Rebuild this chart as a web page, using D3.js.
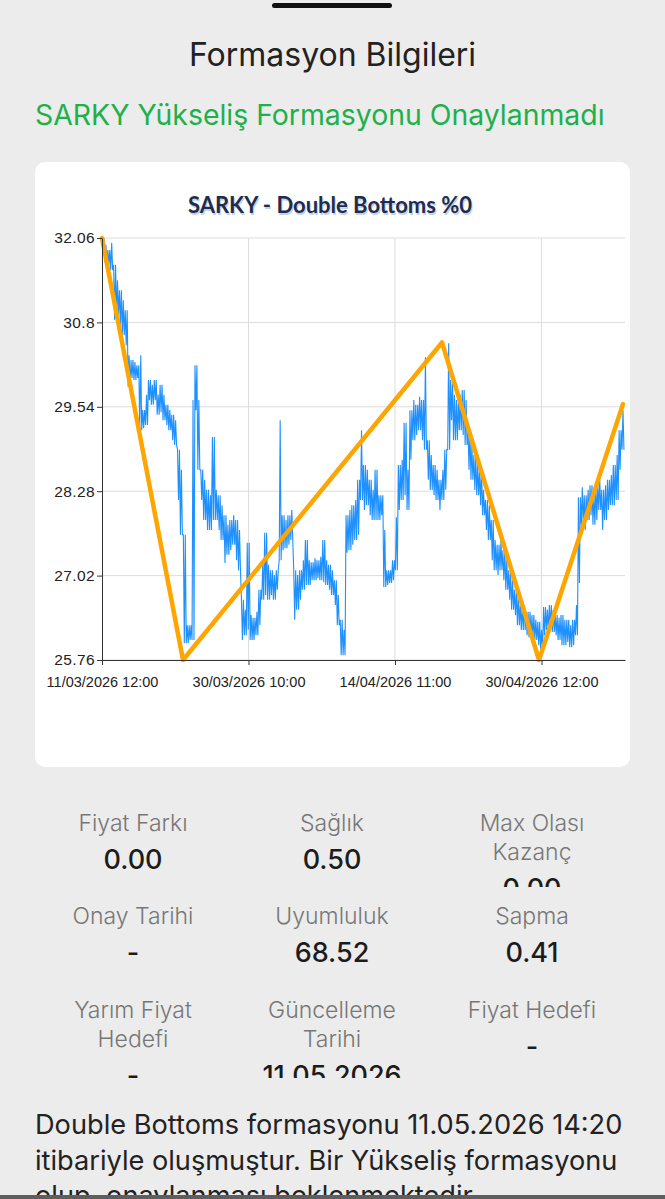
<!DOCTYPE html>
<html><head><meta charset="utf-8">
<script src="https://cdn.jsdelivr.net/npm/d3@7/dist/d3.min.js"></script>
<style>html,body{margin:0;padding:0;background:#ececec;} svg{display:block}</style>
</head><body>
<svg id="c" width="665" height="1199"></svg>
<script>
// ---------- DATA ----------
const highs = [32.06,31.96,31.88,31.99,31.66,31.43,31.28,31.13,30.98,30.31,30.24,30.21,30.16,30.31,29.49,29.72,29.94,29.87,29.94,29.72,
29.87,29.72,29.57,29.49,29.42,29.34,28.90,28.60,27.63,26.28,26.28,29.64,30.16,29.64,28.60,28.45,28.30,28.22,29.09,28.30,
28.22,28.07,27.92,27.78,27.85,27.92,27.85,27.70,26.66,26.51,27.51,26.43,26.39,26.48,26.81,27.18,27.66,27.18,27.10,27.03,
27.10,29.34,27.92,27.85,27.92,28.00,27.10,27.03,27.10,27.25,27.55,27.25,27.22,27.28,27.25,27.30,27.55,27.25,27.18,27.10,
26.95,26.73,26.36,26.21,27.92,28.00,28.07,28.15,28.45,29.19,28.67,28.60,28.45,28.30,28.60,28.22,28.22,27.70,27.10,27.10,
27.25,27.89,28.67,28.75,29.30,28.60,29.49,29.64,29.57,29.69,29.64,30.28,29.04,28.82,28.67,28.60,28.45,28.60,28.90,30.49,
29.94,29.72,29.64,29.72,29.79,29.64,29.19,28.97,28.82,28.67,28.60,28.30,28.15,28.07,27.85,27.55,27.48,27.55,27.40,27.25,
27.10,26.95,26.81,26.73,26.58,26.58,26.48,26.48,26.43,26.36,26.33,26.21,26.55,26.51,26.58,26.51,26.43,26.39,26.43,26.36,
26.36,26.28,26.36,26.58,28.19,28.34,28.22,28.30,28.37,28.22,28.37,28.45,28.30,28.37,28.45,28.52,28.67,28.82,29.19,29.49];
const lows = [31.81,31.70,31.66,31.58,30.84,30.91,30.76,30.61,30.46,29.84,29.97,29.94,29.97,29.19,29.22,29.27,29.64,29.57,29.64,29.42,
29.46,29.34,29.27,29.19,29.04,28.97,28.15,27.63,26.01,26.01,26.06,26.06,29.49,28.60,28.15,27.85,27.70,27.70,27.85,27.85,
27.70,27.55,27.21,27.33,27.40,27.48,27.25,27.10,26.06,26.13,26.21,26.06,26.06,26.13,26.28,26.66,26.73,26.66,26.73,26.66,
26.81,27.25,27.40,27.43,27.48,27.55,26.36,26.51,26.66,26.81,26.88,26.88,26.95,26.95,26.98,26.95,26.92,26.88,26.81,26.73,
26.58,26.28,25.83,25.83,27.36,27.40,27.48,27.55,27.63,28.15,28.00,28.07,27.92,27.85,27.85,27.85,27.92,26.85,26.88,26.91,
26.95,27.10,28.00,28.15,28.22,28.00,28.75,29.04,29.12,29.19,29.04,28.90,28.45,28.30,28.22,28.15,28.00,28.15,28.30,28.90,
29.34,29.04,29.04,29.19,29.12,28.97,28.60,28.45,28.30,28.22,28.07,27.92,27.70,27.55,27.25,27.10,27.03,27.10,26.95,26.81,
26.66,26.51,26.43,26.28,26.21,26.21,26.13,26.10,26.09,26.06,25.98,25.91,26.13,26.21,26.24,26.18,26.13,26.06,25.98,25.98,
26.03,25.95,25.98,26.13,26.91,27.78,27.70,27.85,27.92,27.78,27.85,28.00,27.70,27.85,28.00,28.07,28.07,28.15,28.60,28.90];
const barsPerSample = 1.983;

const yTicks = [25.76, 27.02, 28.28, 29.54, 30.8, 32.06];
const yTickLabels = ["25.76","27.02","28.28","29.54","30.8","32.06"];
const xTickBars = [0, 100, 200, 300];
const xTickLabels = ["11/03/2026 12:00","30/03/2026 10:00","14/04/2026 11:00","30/04/2026 12:00"];

const patternBars = [0, 55.3, 232.1, 298.3, 355.6];
const patternPrices = [32.06, 25.76, 30.50, 25.76, 29.58];

const statLabels = [["Fiyat Farkı"],["Sağlık"],["Max Olası","Kazanç"],
                    ["Onay Tarihi"],["Uyumluluk"],["Sapma"],
                    ["Yarım Fiyat","Hedefi"],["Güncelleme","Tarihi"],["Fiyat Hedefi"]];
const statValues = ["0.00","0.50","0.00","-","68.52","0.41","-","11.05.2026","-"];

const paragraph = ["Double Bottoms formasyonu 11.05.2026 14:20",
                   "itibariyle oluşmuştur. Bir Yükseliş formasyonu",
                   "olup, onaylanması beklenmektedir."];

// ---------- DRAW ----------
const svg = d3.select("#c");
const defs = svg.append("defs");
const UI = "Inter, 'Noto Sans', sans-serif";

svg.append("rect").attr("x",272).attr("y",3).attr("width",120).attr("height",5).attr("rx",2.5).attr("fill","#111");

svg.append("text").attr("x",332.5).attr("y",66).attr("text-anchor","middle")
  .attr("font-family",UI).attr("font-size",32).attr("fill","#222").text("Formasyon Bilgileri");

svg.append("text").attr("x",35).attr("y",125)
  .attr("font-family",UI).attr("font-size",28.4).attr("fill","#1db14b")
  .text("SARKY Yükseliş Formasyonu Onaylanmadı");

svg.append("rect").attr("x",35).attr("y",162).attr("width",595).attr("height",605).attr("rx",10).attr("fill","#fff");

const title = "SARKY - Double Bottoms %0";
svg.append("text").attr("x",331).attr("y",214.5).attr("text-anchor","middle")
  .attr("font-family","Lato, sans-serif").attr("font-weight","bold").attr("font-size",22)
  .attr("fill","#c3d2ea").text(title);
svg.append("text").attr("x",330).attr("y",213).attr("text-anchor","middle")
  .attr("font-family","Lato, sans-serif").attr("font-weight","bold").attr("font-size",22)
  .attr("fill","#1f2d4d").text(title);

const L = 102, R = 625, T = 238, B = 660;
const x = d3.scaleLinear().domain([0, 357]).range([L, R]);
const y = d3.scaleLinear().domain([25.76, 32.06]).range([B, T]);

const g = svg.append("g");
g.selectAll(".hg").data(yTicks).join("line")
  .attr("x1",L).attr("x2",R).attr("y1",d=>y(d)).attr("y2",d=>y(d))
  .attr("stroke","#dddddd").attr("stroke-width",1);
g.selectAll(".vg").data(xTickBars.slice(1)).join("line")
  .attr("x1",d=>x(d)).attr("x2",d=>x(d)).attr("y1",T).attr("y2",B)
  .attr("stroke","#dddddd").attr("stroke-width",1);

// price line: dense high/low oscillation inside each sample
const pts = [];
highs.forEach((h,i)=>{
  const b = i*barsPerSample, s = barsPerSample/3;
  const lo = lows[i];
  const seq = i%2===0 ? [h,lo,h] : [lo,h,lo];
  seq.forEach((v,j)=>pts.push([b+j*s, v]));
});
const line = d3.line().x(d=>x(d[0])).y(d=>y(d[1]));
g.append("path").datum(pts).attr("d",line).attr("fill","none")
  .attr("stroke","#1e90ff").attr("stroke-width",1.1).attr("stroke-linejoin","miter");

const pat = patternBars.map((b,i)=>[b,patternPrices[i]]);
g.append("path").datum(pat).attr("d",line).attr("fill","none")
  .attr("stroke","#ffa500").attr("stroke-width",4.5).attr("stroke-linejoin","round").attr("stroke-linecap","round");

const yAxis = d3.axisLeft(y).tickValues(yTicks).tickFormat((d,i)=>yTickLabels[i]).tickSize(5).tickPadding(2).tickSizeOuter(0);
const ya = svg.append("g").attr("transform",`translate(${L},0)`).call(yAxis);
const xAxis = d3.axisBottom(x).tickValues(xTickBars).tickFormat((d,i)=>xTickLabels[i]).tickSize(5).tickSizeOuter(0);
const xa = svg.append("g").attr("transform",`translate(0,${B})`).call(xAxis);
[ya,xa].forEach(a=>{
  a.select(".domain").attr("stroke","#333");
  a.selectAll(".tick line").attr("stroke","#333");
  a.selectAll("text").attr("font-family","'Liberation Sans', Arial, sans-serif").attr("fill","#222");
});
ya.selectAll("text").attr("font-size",15.5).attr("letter-spacing",0.4);
xa.selectAll("text").attr("font-size",14.5).attr("dy","1.3em");

const colX = [133, 332, 532];
const rowTop = [831, 924, 1018];
const rowClip = [[795,887],[893,982],[988,1078]];
rowClip.forEach((r,i)=>{
  defs.append("clipPath").attr("id","rc"+i).append("rect").attr("x",0).attr("y",r[0]).attr("width",665).attr("height",r[1]-r[0]);
});
statLabels.forEach((lab,k)=>{
  const r = Math.floor(k/3), c = k%3;
  const cell = svg.append("g").attr("clip-path",`url(#rc${r})`);
  lab.forEach((t,j)=>{
    cell.append("text").attr("x",colX[c]).attr("y",rowTop[r]+j*29).attr("text-anchor","middle")
      .attr("font-family",UI).attr("font-weight",300).attr("font-size",23).attr("fill","#777").text(t);
  });
  cell.append("text").attr("x",colX[c]).attr("y",rowTop[r]+(lab.length-1)*29+38).attr("text-anchor","middle")
    .attr("font-family",UI).attr("font-weight",500).attr("font-size",27).attr("fill","#1c1c1c").text(statValues[k]);
});

defs.append("clipPath").attr("id","pc").append("rect").attr("x",0).attr("y",1090).attr("width",665).attr("height",106);
const pg = svg.append("g").attr("clip-path","url(#pc)");
paragraph.forEach((t,i)=>{
  pg.append("text").attr("x",35).attr("y",1134+i*35.5)
    .attr("font-family",UI).attr("font-size",27.2).attr("fill","#222").text(t);
});
svg.append("rect").attr("x",0).attr("y",1195).attr("width",665).attr("height",4).attr("fill","#5e5e5e");
</script>
</body></html>
